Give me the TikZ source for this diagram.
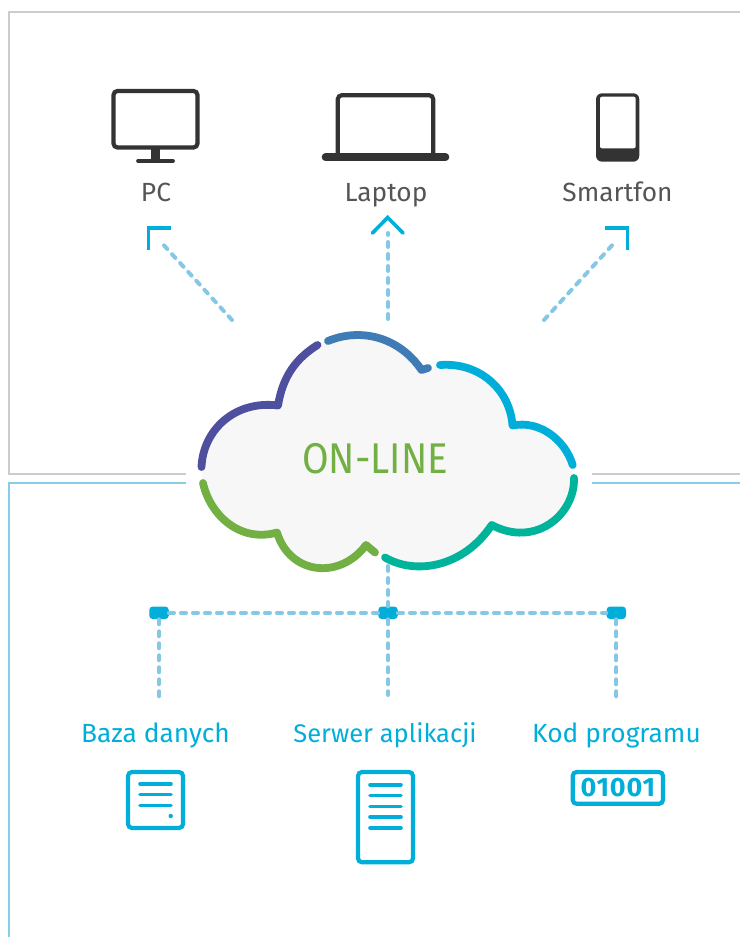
\documentclass[tikz,border=0pt]{standalone}
\usepackage{fontspec}
\setmainfont{Fira Sans}
\newfontfamily\onlinefont[FakeStretch=0.895]{Fira Sans}
\newfontfamily\bitsfont[LetterSpace=3,FakeStretch=1.02]{Fira Sans}
\definecolor{cy}{HTML}{00AED9}
\definecolor{dk}{HTML}{333333}
\definecolor{lab}{HTML}{555555}
\definecolor{dsh}{HTML}{85C8E5}
\definecolor{frg}{HTML}{CCCCCC}
\definecolor{frb}{HTML}{85CDE8}
\definecolor{cpur}{HTML}{4F4F9F}
\definecolor{cblu}{HTML}{3F7BB5}
\definecolor{ctea}{HTML}{00B39B}
\definecolor{cgrn}{HTML}{72B043}
\definecolor{cfil}{HTML}{F7F7F7}
\tikzset{
  toplabel/.style={anchor=base,inner sep=0pt,text=lab,font=\fontsize{26.3}{30}\selectfont},
  botlabel/.style={anchor=base,inner sep=0pt,text=cy,font=\fontsize{26.3}{30}\selectfont},
  link/.style={draw=dsh,line width=4pt,line cap=round,dash pattern=on 5pt off 7pt},
  junction/.style={fill=cy,draw=none,rounded corners=3.5pt,minimum width=19.5pt,minimum height=12.5pt,inner sep=0pt},
  tip/.style={draw=cy,line width=3.6pt},
  devline/.style={draw=dk,line width=4.2pt,rounded corners=4pt},
  srv/.style={draw=cy,line width=4.2pt,rounded corners=4pt},
  bar/.style={draw=cy,line width=3.6pt,line cap=round},
  arc/.style={line width=7.8pt,line cap=round,line join=round},
}
\begin{document}
\begin{tikzpicture}[x=1pt,y=-1pt]
\useasboundingbox (0,0) rectangle (740,937);
% frames
\draw[frg,line width=1.6pt] (740,12)--(9,12)--(9,474)--(186,474);
\draw[frg,line width=1.6pt] (592,474)--(740,474);
\draw[frb,line width=1.2pt] (186,483)--(9,483)--(9,937);
\draw[frb,line width=1.2pt] (592,483)--(740,483);
% cloud fill
\fill[cfil] (202,475) -- (201.5,467) .. controls (203,430) and (235,402) .. (278,405.5)
  .. controls (283,375) and (297,358) .. (317.5,345) -- (328,341)
  .. controls (362,327) and (400,338) .. (421.5,370) -- (440,365)
  .. controls (480,362) and (510,390) .. (512.5,425.5)
  .. controls (540,420) and (565,440) .. (572.7,465) -- (574,478)
  .. controls (575,515) and (535,548) .. (491.7,525)
  .. controls (463,568) and (415,575) .. (385,557.5) -- (375,552.5) -- (366,545)
  .. controls (340,580) and (290,575) .. (277,532.5)
  .. controls (240,540) and (210,515) .. (203,483) -- cycle;
% cloud outline
\draw[arc,cpur] (201.5,467) .. controls (203,430) and (235,400) .. (278,405.5)
  .. controls (283,375) and (297,358) .. (317.5,345);
\draw[arc,cblu] (328,341) .. controls (362,327) and (400,338) .. (421.5,370) -- (428,368);
\draw[arc,cy] (440,365) .. controls (480,362) and (510,390) .. (512.5,425.5)
  .. controls (540,420) and (565,440) .. (572.7,465);
\draw[arc,ctea] (574,478) .. controls (575,515) and (535,548) .. (491.7,525)
  .. controls (463,568) and (415,575) .. (385,557.5);
\draw[arc,cgrn] (203,483) .. controls (210,515) and (240,543) .. (277,532.5)
  .. controls (290,575) and (340,580) .. (366,545) -- (375,552.5);
\node[anchor=base,inner sep=0pt,text=cgrn,font=\fontsize{43}{50}\onlinefont] (online) at (375,473.3) {ON-LINE};
% PC
\draw[devline] (113.5,91) rectangle (197.5,147.5);
\fill[dk] (151,149) rectangle (160,160);
\draw[dk,line width=3.7pt,line cap=round] (138,161) -- (173,161);
% Laptop
\draw[devline] (337.8,155) -- (337.8,95.2) -- (433.2,95.2) -- (433.2,155);
\draw[dk,line width=7.6pt,line cap=round] (325.5,157.2) -- (445.5,157.2);
% Smartfon
\fill[dk,rounded corners=6pt] (596,93.3) rectangle (639.3,161.7);
\fill[white,rounded corners=2pt] (600,96.7) rectangle (635.7,148.3);
% top labels
\node[toplabel] (pc) at (156,201.7) {PC};
\node[toplabel] (laptop) at (386,201.7) {Laptop};
\node[toplabel] (smart) at (617.5,201.7) {Smartfon};
% arrow heads
\draw[tip] (171,228) -- (148.5,228) -- (148.5,250);
\draw[tip,line cap=round] (372.5,233) -- (387.7,217.5) -- (403,233);
\draw[tip] (605,228) -- (627.5,228) -- (627.5,250);
% top links
\coordinate (pcfrom) at (232,320);
\coordinate (pcto) at (160,241);
\coordinate (lapfrom) at (388,319);
\coordinate (lapto) at (388,233);
\coordinate (smfrom) at (544,320);
\coordinate (smto) at (616,241);
\draw[link] (pcfrom) -- (pcto);
\draw[link] (lapfrom) -- (lapto);
\draw[link] (smfrom) -- (smto);
% junctions
\node[junction] (j1) at (159,612.8) {};
\node[junction] (j2) at (388,612.8) {};
\node[junction] (j3) at (616.3,612.8) {};
\coordinate (cloudbot) at (388,566);
\coordinate (e1) at (159,698);
\coordinate (e2) at (388,695);
\coordinate (e3) at (616.3,698);
\draw[link] (j1) -- (j2);
\draw[link] (j2) -- (j3);
\draw[link] (cloudbot) -- (j2);
\draw[link] (j1) -- (e1);
\draw[link] (j2) -- (e2);
\draw[link] (j3) -- (e3);
% bottom labels
\node[botlabel] (baza) at (155.5,742.7) {Baza danych};
\node[botlabel,font=\fontsize{25.5}{30}\selectfont] (serwer) at (385,742.7) {Serwer aplikacji};
\node[botlabel] (kod) at (616.5,742.7) {Kod programu};
% database icon
\draw[srv] (128,772) rectangle (183,828);
\draw[bar] (140,783.7) -- (171,783.7);
\draw[bar] (140,794.5) -- (171,794.5);
\draw[bar] (140,805.3) -- (171,805.3);
\fill[cy] (170.7,816) circle (2.2pt);
% server icon
\draw[srv] (358,772) rectangle (413,862.3);
\draw[bar] (370,784.7) -- (401,784.7);
\draw[bar] (370,795.5) -- (401,795.5);
\draw[bar] (370,806.3) -- (401,806.3);
\draw[bar] (370,817) -- (401,817);
\draw[bar] (370,828) -- (401,828);
% code icon
\draw[srv] (572.7,772) rectangle (663,803.8);
\node[anchor=base,inner sep=0pt,text=cy,font=\fontsize{26.5}{30}\bitsfont\bfseries] (bits) at (617.8,796.7) {01001};
\end{tikzpicture}
\end{document}
